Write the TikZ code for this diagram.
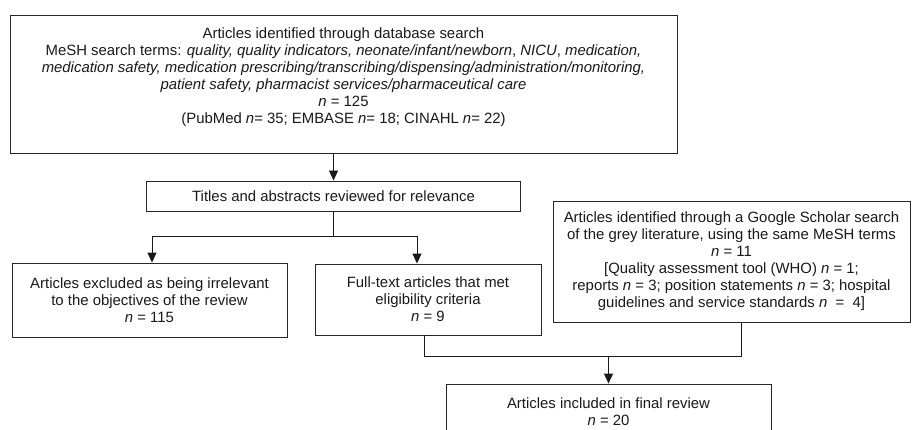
\documentclass[tikz,border=0pt]{standalone}
\usepackage{fontspec}
\setmainfont{Liberation Sans}
\usetikzlibrary{arrows.meta}
\begin{document}
\begin{tikzpicture}[x=1pt,y=-1pt, every node/.style={font=\fontsize{14.9}{17}\selectfont,text=black!90},
  box/.style={draw=black!85,line width=0.9pt,align=center,inner sep=0pt},
  arr/.style={-{Triangle[width=9pt,length=10pt]}}]
\useasboundingbox (0,0) rectangle (912,430);
\node[box,minimum width=667pt,minimum height=138pt] (search) at (343.5,84) {Articles identified through database search\\
MeSH search terms: \textit{quality, quality indicators, neonate/infant/newborn}, \textit{NICU}, \textit{medication,}\\
\textit{medication safety, medication prescribing/transcribing/dispensing/administration/monitoring,}\\
\textit{patient safety, pharmacist services/pharmaceutical care}\\
\textit{n} = 125\\
(PubMed \textit{n}= 35; EMBASE \textit{n}= 18; CINAHL \textit{n}= 22)\\[-6pt]
\strut};
\node[box,minimum width=374pt,minimum height=30pt] (titles) at (333.5,196) {Titles and abstracts reviewed for relevance};
\node[box,minimum width=275pt,minimum height=74pt] (excl) at (149.5,300) {Articles excluded as being irrelevant\\to the objectives of the review\\\textit{n} = 115};
\node[box,minimum width=226pt,minimum height=71pt] (full) at (428,299.5) {Full-text articles that met\\eligibility criteria\\\textit{n} = 9};
\node[box,minimum width=357pt,minimum height=121pt] (google) at (731.5,261.5) {Articles identified through a Google Scholar search\\
of the grey literature, using the same MeSH terms\\
\textit{n} = 11\\
{[}Quality assessment tool (WHO) \textit{n} = 1;\\
reports \textit{n} = 3; position statements \textit{n} = 3; hospital\\
guidelines and service standards \textit{n}\ \ =\ \ 4]};
\node[box,minimum width=325pt,minimum height=55pt] (final) at (608.5,411.5) {Articles included in final review\\\textit{n} = 20};
% connectors
\begin{scope}[line width=0.9pt,black!90]
\coordinate (split) at (333.5,236);
\coordinate (merge) at (608.5,356);
\draw[arr] (search.south -| titles.north) -- (titles.north);
\draw (titles.south) -- (split);
\draw[arr] (split) -| ([xshift=2.5pt]excl.north);
\draw[arr] (split) -| ([xshift=-11pt]full.north);
\draw ([xshift=-4pt]full.south) |- (merge);
\draw ([xshift=9.5pt]google.south) |- (merge);
\draw[arr] (merge) -- (final.north);
\end{scope}
\end{tikzpicture}
\end{document}
